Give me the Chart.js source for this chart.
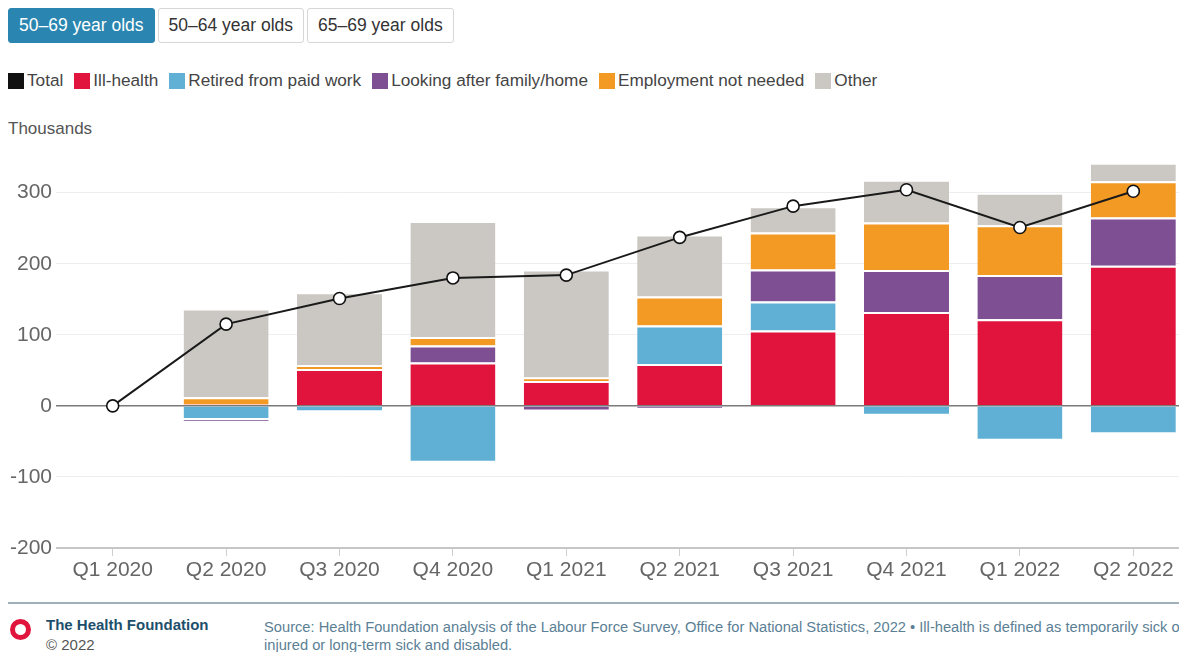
<!DOCTYPE html>
<html>
<head>
<meta charset="utf-8">
<script src="https://cdn.jsdelivr.net/npm/chart.js@4.4.1/dist/chart.umd.min.js"></script>
<style>
  html, body { margin: 0; padding: 0; background: #fff; overflow: hidden; width: 1179px; height: 652px; }
  body { position: relative; font-family: "Liberation Sans", Arial, sans-serif; }
  .tabs { position: absolute; left: 8px; top: 8px; display: flex; gap: 3px; }
  .tab { box-sizing: border-box; height: 35px; line-height: 33px; padding: 0 10px; font-size: 17.5px; color: #333;
         border: 1px solid #d6d6d6; border-radius: 3px; background: #fff; white-space: nowrap; }
  .tab.active { background: #2a86b0; border-color: #2a86b0; color: #fff; }
  .legend { position: absolute; left: 8px; top: 70px; display: flex; align-items: center; font-size: 17.2px; color: #444; white-space: nowrap; }
  .legend span.item { display: inline-flex; align-items: center; margin-right: 11px; }
  .legend i { display: inline-block; width: 16px; height: 16px; margin-right: 3px; }
  .unit { position: absolute; left: 8px; top: 119px; font-size: 17px; color: #555; }
  .plot { position: absolute; left: 0; top: 138px; width: 1200px; height: 462px; }
  .rule { position: absolute; left: 8px; top: 602px; width: 1200px; height: 2px; background: #9fb0b8; }
  .logo { position: absolute; left: 10px; top: 619px; width: 21px; height: 21px; box-sizing: border-box;
          border: 5px solid #e0143c; border-radius: 50%; }
  .org { position: absolute; left: 46px; top: 616px; font-size: 15px; font-weight: bold; color: #1d4f6b; white-space: nowrap; }
  .copy { position: absolute; left: 46px; top: 636px; font-size: 15px; color: #555; white-space: nowrap; }
  .source { position: absolute; left: 264px; top: 618px; font-size: 14.7px; line-height: 18px; color: #5b7f95; white-space: nowrap; }
</style>
</head>
<body>
<div class="tabs">
  <div class="tab active">50–69 year olds</div>
  <div class="tab">50–64 year olds</div>
  <div class="tab">65–69 year olds</div>
</div>
<div class="legend" id="legend"></div>
<div class="unit">Thousands</div>
<div class="plot"><canvas id="chart" width="1200" height="462"></canvas></div>
<div class="rule"></div>
<div class="logo"></div>
<div class="org">The Health Foundation</div>
<div class="copy">© 2022</div>
<div class="source">Source: Health Foundation analysis of the Labour Force Survey, Office for National Statistics, 2022 • Ill-health is defined as temporarily sick or<br>injured or long-term sick and disabled.</div>

<script>
// Change in economically inactive people aged 50–69 since Q1 2020, by main reason (thousands)
const quarters = ["Q1 2020", "Q2 2020", "Q3 2020", "Q4 2020", "Q1 2021", "Q2 2021", "Q3 2021", "Q4 2021", "Q1 2022", "Q2 2022"];
const illHealth = [0, 2, 52, 61, 35, 59, 106, 132, 122, 197];
const retired   = [0, -20, -9, -80, 0, 54, 41, -14, -49, -40];
const family    = [0, -2, 0, 24, -8, -4, 45, 59, 62, 68];
const notNeeded = [0, 10, 5, 12, 5, 41, 52, 67, 70, 51];
const other     = [0, 125, 103, 163, 152, 87, 37, 60, 46, 26];
const total     = [0, 115, 151, 180, 184, 237, 281, 304, 251, 302];

const colours = {
  total: "#111111",
  illHealth: "#e0143c",
  retired: "#5fb0d4",
  family: "#7e4f92",
  notNeeded: "#f39a25",
  other: "#cbc8c3"
};

const series = [
  { label: "Ill-health", data: illHealth, color: colours.illHealth },
  { label: "Retired from paid work", data: retired, color: colours.retired },
  { label: "Looking after family/home", data: family, color: colours.family },
  { label: "Employment not needed", data: notNeeded, color: colours.notNeeded },
  { label: "Other", data: other, color: colours.other }
];

// HTML legend
const legend = document.getElementById("legend");
[{ label: "Total", color: colours.total }].concat(series).forEach(s => {
  const item = document.createElement("span");
  item.className = "item";
  item.innerHTML = '<i style="background:' + s.color + '"></i>' + s.label;
  legend.appendChild(item);
});

const barSets = series.map(s => ({
  type: "bar",
  label: s.label,
  data: s.data,
  backgroundColor: s.color,
  borderColor: "#ffffff",
  borderWidth: { top: 2, bottom: 2, left: 0, right: 0 },
  borderSkipped: "start",
  categoryPercentage: 1,
  barPercentage: 0.75,
  order: 1
}));

const lineSet = {
  type: "line",
  label: "Total",
  data: total,
  borderColor: "#1a1a1a",
  borderWidth: 2,
  pointRadius: 6,
  pointBorderWidth: 1.6,
  pointBackgroundColor: "#ffffff",
  pointBorderColor: "#111111",
  tension: 0,
  order: 0
};

new Chart(document.getElementById("chart"), {
  data: { labels: quarters, datasets: [lineSet].concat(barSets) },
  options: {
    responsive: false,
    animation: false,
    layout: { padding: { top: 12, right: 10, left: 0, bottom: 0 } },
    plugins: { legend: { display: false }, tooltip: { enabled: false } },
    scales: {
      x: {
        stacked: true,
        offset: true,
        border: { display: false },
        grid: { drawOnChartArea: false, drawTicks: true, tickLength: 8, color: "#cfcfcf", offset: false },
        ticks: { color: "#666", font: { family: "Liberation Sans", size: 21 }, padding: 2, maxRotation: 0, autoSkip: false },
        afterFit: s => { s.height = 52; }
      },
      y: {
        stacked: true,
        min: -200,
        max: 360,
        border: { display: false },
        grid: {
          drawTicks: false,
          color: c => c.tick.value === 0 ? "#7a7a7a" : (c.tick.value === -200 ? "#c6c6c6" : "#eeeeee"),
          lineWidth: c => c.tick.value === 0 ? 1.5 : (c.tick.value === -200 ? 2 : 1)
        },
        ticks: { stepSize: 100, includeBounds: false, color: "#666", font: { family: "Liberation Sans", size: 21 }, padding: 4 },
        afterFit: s => { s.width = 56; s.paddingTop = 0; s.paddingBottom = 0; }
      }
    }
  }
});
</script>
</body>
</html>
